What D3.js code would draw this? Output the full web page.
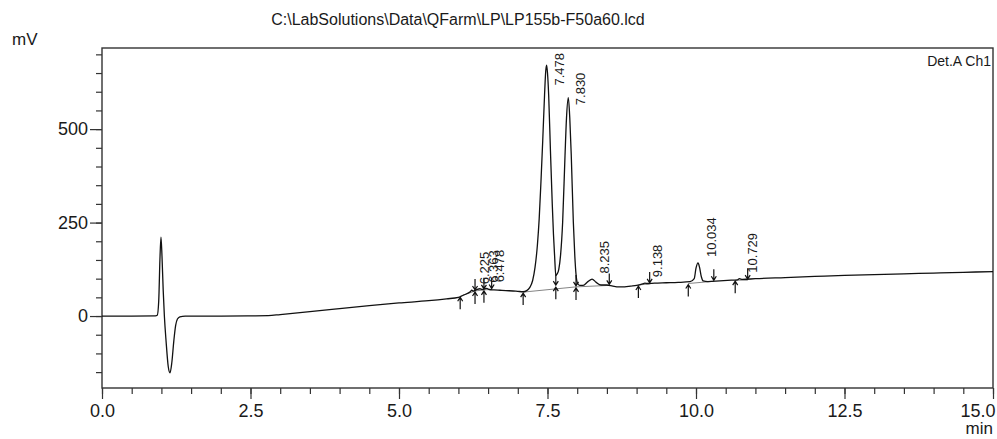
<!DOCTYPE html>
<html>
<head>
<meta charset="utf-8">
<script src="https://cdn.jsdelivr.net/npm/d3@7"></script>
<style>
	body { margin: 0; background: #fff; }
	svg { display: block; font-family: Arial, "Liberation Sans", sans-serif; }
	.tick text { font-size: 18px; fill: #1a1a1a; }
	.tick line { stroke: #333; stroke-width: 1.2px; }
</style>
</head>
<body>
<svg id="chart" width="997" height="439"></svg>
<script>
/* Chromatogram data */

var chartTitle = "C:\\LabSolutions\\Data\\QFarm\\LP\\LP155b-F50a60.lcd";
var detectorLabel = "Det.A Ch1";

// Detector trace: time (min) and signal (mV).
var timeMin = [
	0.00, 0.50, 0.90, 0.93, 0.955, 0.975, 0.993, 1.01, 1.03, 1.05,
	1.08, 1.115, 1.145, 1.175, 1.21, 1.24, 1.27, 1.31, 1.40, 2.00,
	2.50, 2.80, 3.00, 3.50, 4.00, 4.50, 5.00, 5.50, 5.80, 6.00,
	6.10, 6.20, 6.225, 6.25, 6.30, 6.363, 6.40, 6.478, 6.52, 6.60,
	6.70, 6.80, 6.92, 7.00, 7.09, 7.15, 7.20, 7.25, 7.29, 7.33,
	7.36, 7.39, 7.42, 7.45, 7.47, 7.485, 7.50, 7.52, 7.55, 7.58,
	7.60, 7.62, 7.64, 7.66, 7.69, 7.72, 7.755, 7.795, 7.82, 7.85,
	7.875, 7.90, 7.935, 7.96, 7.98, 8.00, 8.04, 8.10, 8.18, 8.25,
	8.32, 8.40, 8.50, 8.60, 8.70, 8.80, 8.90, 9.00, 9.10, 9.14,
	9.18, 9.30, 9.50, 9.70, 9.90, 9.97, 10.00, 10.034, 10.06, 10.09,
	10.12, 10.20, 10.40, 10.60, 10.70, 10.73, 10.78, 11.00, 11.50, 12.00,
	12.50, 13.00, 13.50, 14.00, 14.50, 15.00
];
var signalMv = [
	0, 0, 0.5, 2, 40, 150, 211, 160, 70, 0,
	-70, -135, -152, -125, -65, -25, -8, -2, 0, 0,
	0.5, 1, 4, 12, 20, 28, 35, 41, 46, 50,
	57, 65, 69, 67, 70, 73, 71, 74, 71, 70,
	69, 68, 67, 66, 65, 68, 76, 95, 130, 190,
	260, 360, 470, 590, 655, 671, 650, 590, 440, 300,
	220, 160, 108, 112, 125, 163, 251, 430, 530, 584,
	530, 430, 251, 160, 112, 90, 82, 82, 92, 99,
	90, 83, 83, 80, 78, 78, 80, 82, 86, 88,
	87, 88, 89, 90, 92, 100, 128, 142, 130, 105,
	94, 92, 94, 96, 97, 100, 98, 100, 103, 106,
	109, 111, 113, 115, 117, 119
];

// Retention times printed above the peaks.
var peakTimes = [6.225, 6.363, 6.478, 7.478, 7.830, 8.235, 9.138, 10.034, 10.729];

// Integration marks: time, level (mV) and kind of mark.
var markTimes = [6.03, 6.28, 6.43, 6.56, 7.09, 7.64, 7.98, 8.54, 9.03, 9.22, 9.87, 10.30, 10.66, 10.87];
var markLevels = [53, 67, 70, 71, 64, 80, 78, 82, 83, 86, 87, 93, 96, 96];
var markKinds = ["start", "both", "both", "end", "start", "both", "both", "end",
	"start", "end", "start", "end", "start", "end"];

// Peak integration baselines, as [start, end] pairs of mark indexes.
var baselinePairs = [[0, 1], [1, 2], [2, 3], [4, 6], [6, 7], [8, 9], [10, 11], [12, 13]];

var xMajorTicks = [0, 2.5, 5, 7.5, 10, 12.5, 15];
var yMajorTicks = [0, 250, 500];

/* Drawing */

var svg = d3.select("#chart");
var width = +svg.attr("width");
var height = +svg.attr("height");
var margin = { left: 102, top: 48, right: 4, bottom: 51 };

var x = d3.scaleLinear().domain([0, 15])
	.range([margin.left, width - margin.right]);
var y = d3.scaleLinear().domain([-192.5, 717])
	.range([height - margin.bottom, margin.top]);

// Linear lookup of the trace, used to place the peak labels.
function interpolateSignal(t) {
	var i = d3.bisectLeft(timeMin, t);
	if (i <= 0) return signalMv[0];
	if (i >= timeMin.length) return signalMv[signalMv.length - 1];
	var t0 = timeMin[i - 1], t1 = timeMin[i];
	return signalMv[i - 1] + (signalMv[i] - signalMv[i - 1]) * (t - t0) / (t1 - t0);
}

// Title and units.
svg.append("text").attr("x", 458).attr("y", 25).attr("text-anchor", "middle")
	.style("font-size", "16px").attr("fill", "#1a1a1a").text(chartTitle);
svg.append("text").attr("x", 12).attr("y", 45)
	.style("font-size", "17px").attr("fill", "#1a1a1a").text("mV");
svg.append("text").attr("x", width - margin.right).attr("y", 434).attr("text-anchor", "end")
	.style("font-size", "17px").attr("fill", "#1a1a1a").text("min");

// Axes: minor ticks first, then the labelled major ticks.
var xMinor = d3.range(0, 15.001, 0.5);
var yMinor = d3.range(-150, 701, 50);

svg.append("g").attr("transform", "translate(0," + y.range()[0] + ")")
	.call(d3.axisBottom(x).tickValues(xMinor).tickSize(6).tickFormat(""))
	.call(function (g) { g.select(".domain").remove(); });
svg.append("g").attr("transform", "translate(0," + y.range()[0] + ")")
	.call(d3.axisBottom(x).tickValues(xMajorTicks).tickSize(11).tickPadding(5)
		.tickFormat(d3.format(".1f")))
	.call(function (g) {
		g.select(".domain").remove();
		// The last label sits flush with the right edge, as on the printout.
		g.selectAll(".tick text").filter(function (d) { return d === 15; })
			.attr("text-anchor", "end").attr("dx", "2");
	});

svg.append("g").attr("transform", "translate(" + margin.left + ",0)")
	.call(d3.axisLeft(y).tickValues(yMinor).tickSize(6).tickFormat(""))
	.call(function (g) { g.select(".domain").remove(); });
svg.append("g").attr("transform", "translate(" + margin.left + ",0)")
	.call(d3.axisLeft(y).tickValues(yMajorTicks).tickSize(12).tickPadding(2)
		.tickFormat(d3.format("d")))
	.call(function (g) { g.select(".domain").remove(); });

// Plot frame.
svg.append("rect")
	.attr("x", x(0)).attr("y", y(717))
	.attr("width", x(15) - x(0)).attr("height", y(-192.5) - y(717))
	.attr("fill", "none").attr("stroke", "#333").attr("stroke-width", 1.4);

svg.append("text").attr("x", x(15) - 2).attr("y", 66).attr("text-anchor", "end")
	.style("font-size", "14px").attr("fill", "#1a1a1a").text(detectorLabel);

// Integration baselines under the peaks.
svg.append("g").selectAll("line").data(baselinePairs).enter().append("line")
	.attr("x1", function (p) { return x(markTimes[p[0]]); })
	.attr("y1", function (p) { return y(markLevels[p[0]]); })
	.attr("x2", function (p) { return x(markTimes[p[1]]); })
	.attr("y2", function (p) { return y(markLevels[p[1]]); })
	.attr("stroke", "#666").attr("stroke-width", 0.8);

// The trace itself.
var traceData = timeMin.map(function (t, i) { return [t, signalMv[i]]; });
svg.append("path").datum(traceData)
	.attr("fill", "none").attr("stroke", "#111").attr("stroke-width", 1.3)
	.attr("d", d3.line()
		.x(function (d) { return x(d[0]); })
		.y(function (d) { return y(d[1]); })
		.curve(d3.curveMonotoneX));

// Start / end arrows.
var marks = markTimes.map(function (t, i) {
	return { t: t, v: markLevels[i], kind: markKinds[i] };
});
svg.append("g").selectAll("path").data(marks).enter().append("path")
	.attr("fill", "none").attr("stroke", "#111").attr("stroke-width", 1.2)
	.attr("d", function (m) {
		var mx = x(m.t), my = y(m.v), d = "";
		if (m.kind !== "end") {
			// arrow coming up from below
			d += "M" + mx + "," + (my + 13) + "V" + (my + 1) +
				"M" + (mx - 2.5) + "," + (my + 5) + "L" + mx + "," + (my + 1) +
				"L" + (mx + 2.5) + "," + (my + 5);
		}
		if (m.kind !== "start") {
			// arrow coming down from above
			d += "M" + mx + "," + (my - 12) + "V" + (my - 1) +
				"M" + (mx - 2.5) + "," + (my - 5) + "L" + mx + "," + (my - 1) +
				"L" + (mx + 2.5) + "," + (my - 5);
		}
		return d;
	});

// Retention time labels, rotated, kept inside the frame.
var labelSize = 13;
svg.append("g").selectAll("text").data(peakTimes).enter().append("text")
	.style("font-size", labelSize + "px").attr("fill", "#1a1a1a")
	.attr("dy", "0.35em")
	.attr("transform", function (t) {
		var textLen = d3.format(".3f")(t).length * labelSize * 0.5;
		var startY = Math.max(y(interpolateSignal(t)) - 6, y.range()[1] + 5 + textLen);
		return "translate(" + (x(t) + 13) + "," + startY + ") rotate(-90)";
	})
	.text(function (t) { return d3.format(".3f")(t); });
</script>
</body>
</html>
